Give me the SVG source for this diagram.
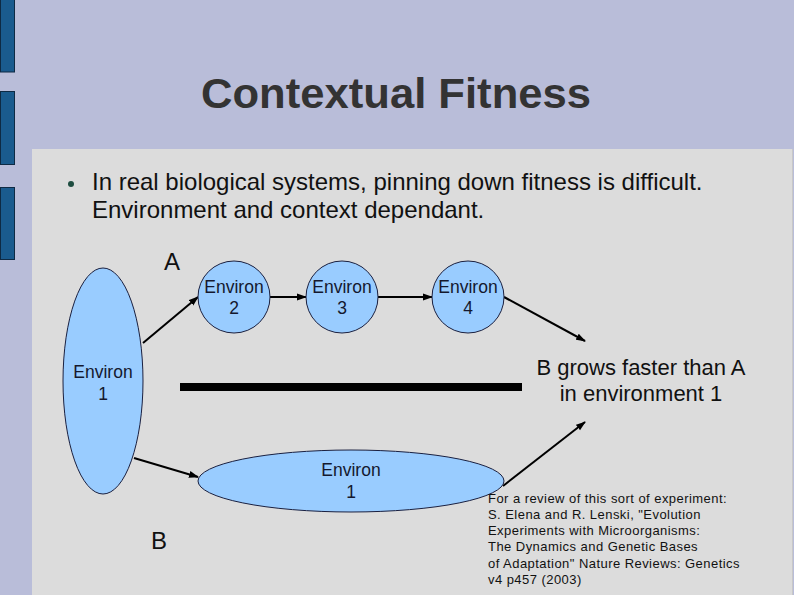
<svg xmlns="http://www.w3.org/2000/svg" width="794" height="595" viewBox="0 0 794 595">
<style>
.bg{fill:#B9BDD9}
.bar{fill:#1A5B8E;stroke:#0E2A44;stroke-width:1}
.node{fill:#99CCFF;stroke:#1A2040;stroke-width:1}
.nt{font-family:"Liberation Sans",Arial,sans-serif;font-size:17.5px;fill:#14182E;text-anchor:middle}
.t{font-family:"Liberation Sans",Arial,sans-serif;fill:#111}
.edge{stroke:#000;stroke-width:2;fill:none;marker-end:url(#ah)}
</style>
<defs>
<marker id="ah" markerWidth="10" markerHeight="8" refX="9" refY="4" orient="auto" markerUnits="userSpaceOnUse">
<path d="M0,0.5 L10,4 L0,7.5 z" fill="#000"/>
</marker>
</defs>
<rect class="bg" x="0" y="0" width="794" height="595"/>
<rect class="bar" x="0.5" y="-1" width="14" height="73"/>
<rect class="bar" x="0.5" y="91.5" width="14" height="73"/>
<rect class="bar" x="0.5" y="187.5" width="14" height="72"/>
<rect x="32" y="149" width="761" height="447" fill="#DCDCDC"/>
<line x1="792.5" y1="149" x2="792.5" y2="595" stroke="#C8C8C8" stroke-width="1"/>
<text class="t" x="396" y="108" text-anchor="middle" font-size="43" font-weight="bold" style="fill:#333333" textLength="390" lengthAdjust="spacingAndGlyphs">Contextual Fitness</text>
<circle cx="71" cy="184" r="3" fill="#1E4D40"/>
<text class="t" x="92" y="190" font-size="24">In real biological systems, pinning down fitness is difficult.</text>
<text class="t" x="92" y="218" font-size="24">Environment and context dependant.</text>
<text class="t" x="164" y="270" font-size="24">A</text>
<text class="t" x="151" y="549" font-size="24">B</text>
<g id="connectors">
<line class="edge" x1="143" y1="343" x2="198" y2="297"/>
<line class="edge" x1="270" y1="297" x2="306" y2="297"/>
<line class="edge" x1="378" y1="297" x2="432" y2="297"/>
<line class="edge" x1="504" y1="297" x2="585" y2="341"/>
<line class="edge" x1="134" y1="458" x2="198" y2="477"/>
<line class="edge" x1="503" y1="486" x2="585" y2="422"/>
</g>
<g id="env1a">
<ellipse class="node" cx="103" cy="381" rx="40" ry="113"/>
<text class="nt" x="103" y="378">Environ</text>
<text class="nt" x="103" y="400">1</text>
</g>
<g id="env2">
<circle class="node" cx="234" cy="297" r="36"/>
<text class="nt" x="234" y="293">Environ</text>
<text class="nt" x="234" y="314">2</text>
</g>
<g id="env3">
<circle class="node" cx="342" cy="297" r="36"/>
<text class="nt" x="342" y="293">Environ</text>
<text class="nt" x="342" y="314">3</text>
</g>
<g id="env4">
<circle class="node" cx="468" cy="297" r="36"/>
<text class="nt" x="468" y="293">Environ</text>
<text class="nt" x="468" y="314">4</text>
</g>
<g id="env1b">
<ellipse class="node" cx="351" cy="481" rx="153" ry="31"/>
<text class="nt" x="351" y="476">Environ</text>
<text class="nt" x="351" y="498">1</text>
</g>
<rect x="180" y="383" width="342" height="8" fill="#000"/>
<g id="result">
<text class="t" x="641" y="375" font-size="22" text-anchor="middle">B grows faster than A</text>
<text class="t" x="641" y="401" font-size="22" text-anchor="middle">in environment 1</text>
</g>
<g id="note" class="t" font-size="13" letter-spacing="0.45">
<text x="488" y="503">For a review of this sort of experiment:</text>
<text x="488" y="519">S. Elena and R. Lenski, "Evolution</text>
<text x="488" y="535">Experiments with Microorganisms:</text>
<text x="488" y="551">The Dynamics and Genetic Bases</text>
<text x="488" y="568">of Adaptation" Nature Reviews: Genetics</text>
<text x="488" y="584">v4 p457 (2003)</text>
</g>
</svg>
